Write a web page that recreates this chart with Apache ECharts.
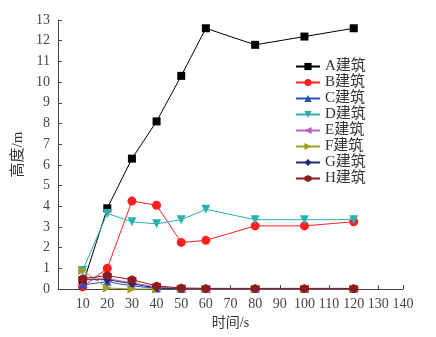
<!DOCTYPE html>
<html>
<head>
<meta charset="utf-8">
<script src="https://cdn.jsdelivr.net/npm/echarts@6/dist/echarts.min.js"></script>
<style>
  html, body { margin: 0; padding: 0; background: #fff; }
  #chart { width: 436px; height: 337px; }
</style>
</head>
<body>
<div id="chart"></div>
<script>
// Sampling times (s)
const times = [10, 20, 30, 40, 50, 60, 80, 100, 120];

// Height (m) of each building over time
const buildingA = [0.2, 3.9, 6.3, 8.1, 10.3, 12.6, 11.8, 12.2, 12.6];
const buildingB = [0.1, 1.0, 4.25, 4.05, 2.25, 2.35, 3.05, 3.05, 3.25];
const buildingC = [0.2, 0.35, 0.15, 0.03, 0, 0, 0, 0, 0];
const buildingD = [0.9, 3.65, 3.25, 3.15, 3.35, 3.85, 3.35, 3.35, 3.35];
const buildingE = [0.55, 0.5, 0.3, 0.1, 0.02, 0, 0, 0, 0];
const buildingF = [0.9, 0.05, 0, 0, 0, 0, 0, 0, 0];
const buildingG = [0.45, 0.45, 0.25, 0.05, 0, 0, 0, 0, 0];
const buildingH = [0.5, 0.65, 0.45, 0.15, 0.05, 0.03, 0.03, 0.03, 0.03];

const seriesNames = ['A建筑', 'B建筑', 'C建筑', 'D建筑', 'E建筑', 'F建筑', 'G建筑', 'H建筑'];
const seriesValues = [buildingA, buildingB, buildingC, buildingD, buildingE, buildingF, buildingG, buildingH];
const seriesColors = ['#000000', '#ff2020', '#2a4fb8', '#2ab0b0', '#c060c0', '#a0a028', '#24287a', '#8e1c1c'];

const hexagon = 'path://M50,0 L93,25 L93,75 L50,100 L7,75 L7,25 Z';
const seriesSymbols = ['rect', 'circle', 'triangle', 'triangle', 'triangle', 'triangle', 'diamond', hexagon];
const symbolRotations = [0, 0, 0, 180, 90, -90, 0, 0];
const symbolSizes = [8, 9, 8, 9, 9, 9, 8, 9];

const serifFont = '"Liberation Serif", "DejaVu Serif", "Noto Sans CJK SC", serif';

const series = seriesNames.map((name, i) => ({
  name: name,
  type: 'line',
  data: times.map((t, k) => [t, seriesValues[i][k]]),
  symbol: seriesSymbols[i],
  symbolRotate: symbolRotations[i],
  symbolSize: symbolSizes[i],
  showAllSymbol: true,
  z: 10 + i,
  itemStyle: { color: seriesColors[i] },
  lineStyle: { color: seriesColors[i], width: 1 },
  emphasis: { disabled: true },
  animation: false
}));

const chart = echarts.init(document.getElementById('chart'), null, { renderer: 'canvas' });
chart.setOption({
  animation: false,
  backgroundColor: '#ffffff',
  grid: { left: 58, right: 33, top: 20, bottom: 48, containLabel: false },
  legend: {
    orient: 'vertical',
    left: 290,
    top: 54,
    itemGap: 1,
    itemWidth: 24,
    itemHeight: 9,
    textStyle: { fontFamily: serifFont, fontSize: 15, color: '#333' },
    data: seriesNames
  },
  xAxis: {
    type: 'value',
    min: 0,
    max: 140,
    interval: 10,
    name: '时间/s',
    nameLocation: 'middle',
    nameGap: 25,
    nameTextStyle: { fontFamily: serifFont, fontSize: 14, color: '#333' },
    axisLine: { show: true, lineStyle: { color: '#444', width: 1 } },
    axisTick: { show: true, inside: true, length: 4, lineStyle: { color: '#444' } },
    axisLabel: {
      fontFamily: serifFont, fontSize: 14, color: '#444', margin: 8,
      formatter: v => (v === 0 ? '' : String(v))
    },
    splitLine: { show: false }
  },
  yAxis: {
    type: 'value',
    min: 0,
    max: 13,
    interval: 1,
    name: '高度/m',
    nameLocation: 'middle',
    nameGap: 26,
    nameTextStyle: { fontFamily: serifFont, fontSize: 15, color: '#333' },
    axisLine: { show: true, lineStyle: { color: '#444', width: 1 } },
    axisTick: { show: true, inside: true, length: 4, lineStyle: { color: '#444' } },
    axisLabel: { fontFamily: serifFont, fontSize: 14, color: '#444', margin: 8 },
    splitLine: { show: false }
  },
  series: series
});
</script>
</body>
</html>
